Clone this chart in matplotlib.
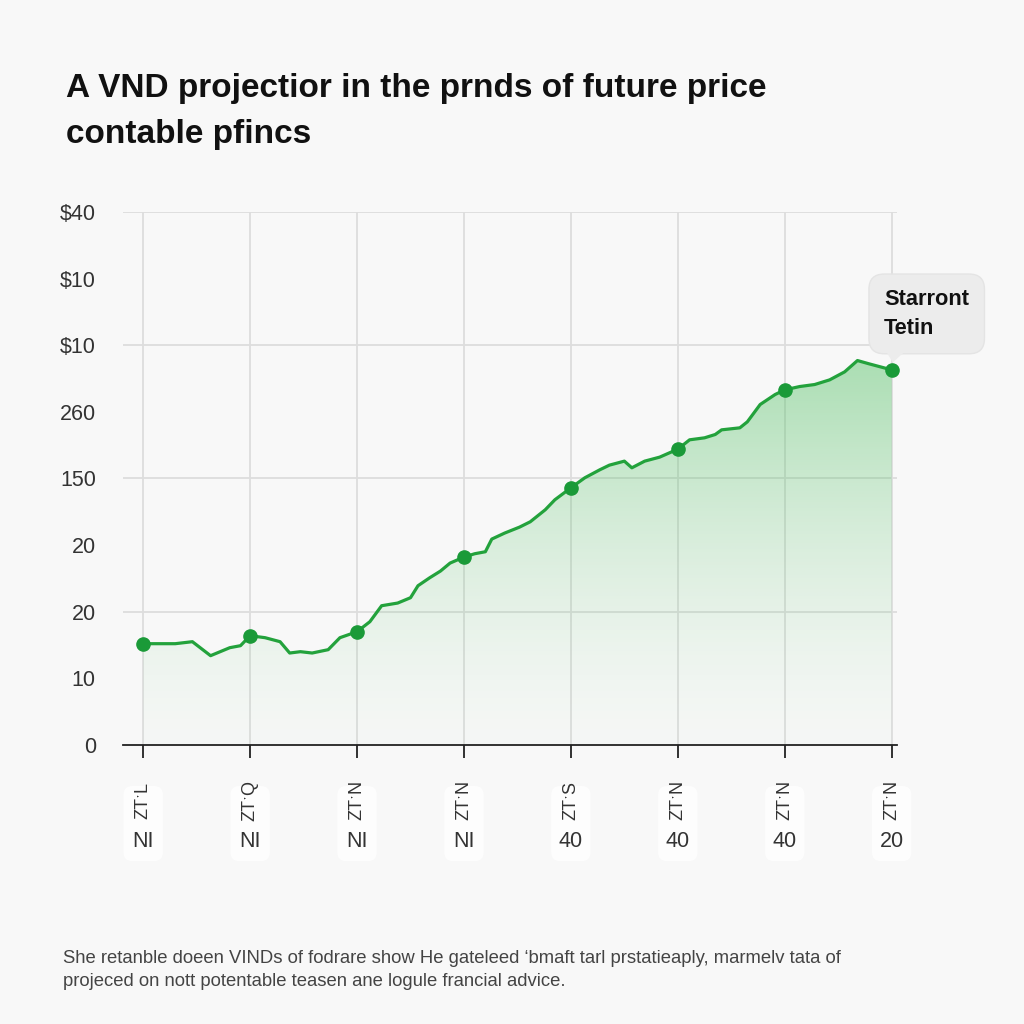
import numpy as np
import matplotlib
matplotlib.use("Agg")
import matplotlib.pyplot as plt
from matplotlib.patches import Polygon

plt.rcParams['font.family'] = ['Liberation Sans', 'DejaVu Sans']

# ---- data (x in period index, y in tick-position units) ----
x_vals = [0, 0.30, 0.46, 0.63, 0.81, 0.91, 1.0, 1.14, 1.28, 1.37, 1.47, 1.58, 1.73, 1.84,
          2.0, 2.12, 2.23, 2.38, 2.50, 2.57, 2.68, 2.78, 2.87, 3.0, 3.10, 3.20, 3.26, 3.38,
          3.52, 3.62, 3.76, 3.85, 4.0, 4.13, 4.27, 4.36, 4.50, 4.57, 4.69, 4.83, 5.0, 5.11,
          5.25, 5.35, 5.41, 5.58, 5.65, 5.77, 5.91, 6.0, 6.14, 6.28, 6.42, 6.56, 6.68, 6.79, 7.0]
y_vals = [1.52, 1.52, 1.55, 1.34, 1.46, 1.49, 1.64, 1.61, 1.55, 1.38, 1.40, 1.38, 1.43, 1.61,
          1.70, 1.85, 2.09, 2.13, 2.21, 2.39, 2.51, 2.61, 2.73, 2.82, 2.87, 2.90, 3.09, 3.18,
          3.27, 3.35, 3.53, 3.68, 3.86, 4.01, 4.13, 4.20, 4.26, 4.16, 4.26, 4.32, 4.44, 4.58,
          4.61, 4.66, 4.73, 4.76, 4.85, 5.11, 5.26, 5.33, 5.38, 5.41, 5.48, 5.60, 5.77, 5.72, 5.63]
marker_x = [0, 1, 2, 3, 4, 5, 6, 7]
marker_y = [1.52, 1.64, 1.70, 2.82, 3.86, 4.44, 5.33, 5.63]
y_tick_labels = ['0', '10', '20', '20', '150', '260', '$10', '$10', '$40']
x_tick_top = ['ZT\u02d1L', 'ZT\u02d1Q', 'ZT\u02d1N', 'ZT\u02d1N', 'ZT\u02d1S', 'ZT\u02d1N', 'ZT\u02d1N', 'ZT\u02d1N']
x_tick_bottom = ['NI', 'NI', 'NI', 'NI', '40', '40', '40', '20']
title_lines = ["A VND projectior in the prnds of future price", "contable pfincs"]
footer_lines = ["She retanble doeen VINDs of fodrare show He gateleed \u2018bmaft tarl prstatieaply, marmelv tata of",
                "projeced on nott potentable teasen ane logule francial advice."]
callout = "Starront\nTetin"

BG = '#f8f8f8'
GREEN = '#23a23c'

fig = plt.figure(figsize=(10.24, 10.24), dpi=100, facecolor=BG)
ax = fig.add_axes([0.120, 0.2725, 0.756, 0.5205], facecolor=BG)
ax.set_xlim(-0.19, 7.05)
ax.set_ylim(0, 8)

for s in ['top', 'right', 'left']:
    ax.spines[s].set_visible(False)
ax.spines['bottom'].set_color('#222222')
ax.spines['bottom'].set_linewidth(1.3)

# grid
for yy in [2, 4, 6, 8]:
    ax.axhline(yy, color='#dddddd', lw=1.3, zorder=0)
for xx in marker_x:
    ax.axvline(xx, color='#dddddd', lw=1.3, zorder=0)

# gradient fill
verts = [(x_vals[0], 0)] + list(zip(x_vals, y_vals)) + [(x_vals[-1], 0)]
poly = Polygon(verts, closed=True, facecolor='none', edgecolor='none')
ax.add_patch(poly)
h = 256
grad = np.zeros((h, 2, 4))
t = np.linspace(0, 1, h)[:, None]  # 0 at bottom -> 1 at top
grad[..., 0] = 0.33
grad[..., 1] = 0.76
grad[..., 2] = 0.40
grad[..., 3] = 0.02 + 0.48 * t ** 1.5
im = ax.imshow(grad, extent=[x_vals[0], x_vals[-1], 0, 6], origin='lower',
               aspect='auto', zorder=1, interpolation='bilinear')
im.set_clip_path(poly)

ax.plot(x_vals, y_vals, color=GREEN, lw=2.3, zorder=3, solid_joinstyle='round')
ax.plot(marker_x, marker_y, 'o', color='#1a9a38', ms=9.5, zorder=5, clip_on=False)

ax.set_yticks(range(9))
ax.set_yticklabels(y_tick_labels, fontsize=15.5, color='#333333')
ax.tick_params(axis='y', length=0, pad=19.5)
ax.set_xticks(marker_x)
ax.set_xticklabels([])
ax.tick_params(axis='x', length=9, width=1.3, color='#222222', direction='out')

# x tick labels (two parts on a faint white card)
for xi, top, bot in zip(marker_x, x_tick_top, x_tick_bottom):
    ax.text(xi, -1.18, '00\n00\n00', ha='center', va='center', fontsize=14,
            color='white', alpha=0, clip_on=False, linespacing=1.25, zorder=1,
            bbox=dict(boxstyle='round,pad=0.45', fc='white', ec='none', alpha=0.8))
    ax.text(xi, -0.83, top, rotation=90, ha='center', va='center', fontsize=13,
            color='#333333', clip_on=False, zorder=2)
    ax.text(xi, -1.45, bot, ha='center', va='center', fontsize=15.5, color='#333333',
            clip_on=False, zorder=2)

# callout box + pointer
ax.text(6.93, 6.47, callout, ha='left', va='center', fontsize=15.7, color='#111111',
        fontweight='semibold', linespacing=1.45, zorder=6, clip_on=False,
        bbox=dict(boxstyle='round,pad=0.7', fc='#ececec', ec='#e4e4e4'))
ax.add_patch(Polygon([(6.94, 5.93), (7.14, 5.93), (7.01, 5.74)], closed=True,
                     fc='#ececec', ec='none', zorder=6, clip_on=False))

fig.text(0.064, 1 - 97 / 1024, title_lines[0], fontsize=24, fontweight='bold',
         color='#111111', va='baseline', ha='left')
fig.text(0.064, 1 - 143 / 1024, title_lines[1], fontsize=24, fontweight='bold',
         color='#111111', va='baseline', ha='left')
fig.text(0.062, 1 - 963 / 1024, footer_lines[0], fontsize=13.3, color='#444444',
         va='baseline', ha='left')
fig.text(0.062, 1 - 986 / 1024, footer_lines[1], fontsize=13.3, color='#444444',
         va='baseline', ha='left')

fig.savefig('out.png', dpi=100, facecolor=BG)
